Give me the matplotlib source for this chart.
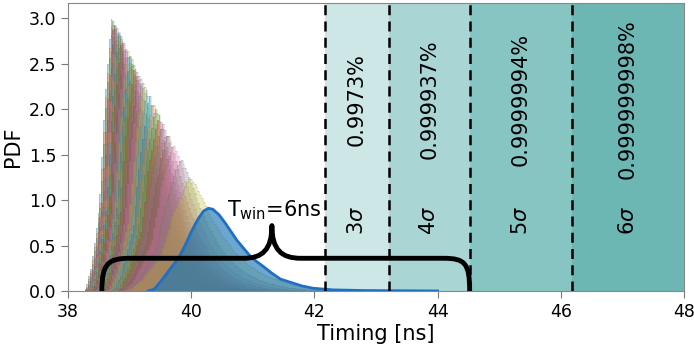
import numpy as np
import matplotlib
matplotlib.use("Agg")
import matplotlib.pyplot as plt
from matplotlib.path import Path
from matplotlib.patches import PathPatch

# ---------------- data ----------------
peak_times = [38.71, 38.72, 38.73, 38.75, 38.76, 38.77, 38.78, 38.79, 38.81, 38.82,
              38.83, 38.84, 38.85, 38.87, 38.89, 38.91, 38.93, 38.95, 38.97, 38.99,
              39.01, 39.03, 39.05, 39.08, 39.11, 39.14, 39.17, 39.20, 39.23, 39.28,
              39.33, 39.38, 39.43, 39.48, 39.54, 39.62, 39.71, 39.83, 39.98]
peak_heights = [3.03, 3.02, 3.00, 2.97, 2.96, 2.95, 2.93, 2.92, 2.89, 2.88,
                2.86, 2.85, 2.83, 2.80, 2.78, 2.75, 2.72, 2.69, 2.67, 2.64,
                2.61, 2.58, 2.55, 2.51, 2.47, 2.43, 2.39, 2.34, 2.30, 2.23,
                2.16, 2.09, 2.02, 1.95, 1.85, 1.74, 1.62, 1.46, 1.25]
# normalised pulse profile of the first (narrowest) histogram, offset from peak [ns]
profile_dt = [-0.45, -0.41, -0.33, -0.26, -0.19, -0.11, -0.03, 0.0, 0.05, 0.10,
              0.15, 0.20, 0.30, 0.40, 0.50, 0.60, 0.70, 0.85, 1.00, 1.20]
profile_y = [0.0, 0.01, 0.086, 0.20, 0.33, 0.69, 0.93, 1.0, 0.90, 0.76,
             0.63, 0.52, 0.34, 0.22, 0.14, 0.09, 0.055, 0.025, 0.01, 0.0]

blue_t = [39.30, 39.40, 39.50, 39.60, 39.70, 39.80, 39.90, 40.00, 40.10, 40.20,
          40.28, 40.35, 40.45, 40.55, 40.65, 40.74, 40.85, 40.95, 41.05, 41.17,
          41.30, 41.45, 41.66, 41.80, 41.98, 42.30, 42.80, 43.50, 44.00]
blue_pdf = [0.0, 0.02, 0.10, 0.19, 0.28, 0.37, 0.50, 0.65, 0.78, 0.88,
            0.91, 0.90, 0.84, 0.75, 0.65, 0.56, 0.47, 0.39, 0.33, 0.27,
            0.20, 0.13, 0.085, 0.055, 0.03, 0.012, 0.005, 0.002, 0.0]

sigma_edges = [42.17, 43.21, 44.52, 46.18, 48.0]
sigma_labels = ["$3\\sigma$", "$4\\sigma$", "$5\\sigma$", "$6\\sigma$"]
percent_labels = ["0.9973%", "0.999937%", "0.9999994%", "0.999999998%"]
region_colors = ["#cde7e6", "#a9d5d4", "#87c5c3", "#6cb6b3"]

brace_start, brace_end = 38.55, 44.52
brace_tip = 41.31
brace_level, brace_tip_level = 0.36, 0.72

# ---------------- figure ----------------
fig = plt.figure(figsize=(6.94, 3.51), dpi=100)
ax = fig.add_axes([0.098, 0.171, 0.8876, 0.8205])

# sigma regions
for i in range(4):
    ax.axvspan(sigma_edges[i], sigma_edges[i + 1], color=region_colors[i], lw=0, zorder=0)
for x in sigma_edges[:4]:
    ax.axvline(x, color="black", ls=(0, (4, 2.5)), lw=1.8, zorder=5)

# histograms
tab = plt.rcParams["axes.prop_cycle"].by_key()["color"]
edges = np.arange(38.0, 44.0 + 1e-9, 0.03)
centers = 0.5 * (edges[:-1] + edges[1:])
h0 = peak_heights[0]
for i, (p, h) in enumerate(zip(peak_times, peak_heights)):
    s = h0 / h
    vals = h * np.interp((centers - p) / s, profile_dt, profile_y, left=0, right=0)
    c = tab[i % 10]
    ax.stairs(vals, edges, fill=True, color=c, alpha=0.3, lw=0, zorder=1)
    ax.stairs(vals, edges, color="#666666", alpha=0.2, lw=0.6, zorder=1)

# blue curve
ax.fill_between(blue_t, blue_pdf, 0, color="#1f77b4", alpha=0.65, lw=0, zorder=2)
ax.plot(blue_t, blue_pdf, color="#1f6fc4", lw=2.0, zorder=3)

# brace
L, R, T = brace_start, brace_end, brace_tip
yb, yt = brace_level, brace_tip_level
verts = [(L, 0.0), (L, 0.30), (L + 0.10, yb), (L + 0.45, yb),
         (T - 0.46, yb),
         (T - 0.16, yb), (T, yb + 0.09), (T, yt),
         (T, yb + 0.09), (T + 0.16, yb), (T + 0.47, yb),
         (R - 0.42, yb),
         (R - 0.07, yb), (R, 0.30), (R, 0.0)]
codes = [Path.MOVETO, Path.CURVE4, Path.CURVE4, Path.CURVE4,
         Path.LINETO,
         Path.CURVE4, Path.CURVE4, Path.CURVE4,
         Path.CURVE4, Path.CURVE4, Path.CURVE4,
         Path.LINETO,
         Path.CURVE4, Path.CURVE4, Path.CURVE4]
ax.add_patch(PathPatch(Path(verts, codes), fc="none", ec="black", lw=3.5,
                       capstyle="round", joinstyle="round", zorder=6))
ax.text(40.58, 0.82, "T$_{\\mathrm{win}}$=6ns", fontsize=15, ha="left", va="baseline", zorder=7)

# region texts
for i in range(4):
    xm = 0.5 * (sigma_edges[i] + sigma_edges[i + 1])
    ax.text(xm, 2.11, percent_labels[i], rotation=90, ha="center", va="center", fontsize=15, zorder=7)
    ax.text(xm, 0.78, sigma_labels[i], rotation=90, ha="center", va="center", fontsize=15, zorder=7)

ax.set_xlim(38, 48)
ax.set_ylim(0, 3.17)
ax.set_xticks([38, 40, 42, 44, 46, 48])
ax.set_yticks([0.0, 0.5, 1.0, 1.5, 2.0, 2.5, 3.0])
ax.set_xlabel("Timing [ns]", fontsize=15, labelpad=2)
ax.set_ylabel("PDF", fontsize=15, labelpad=4)
ax.tick_params(labelsize=12.5, color="#777777", length=5)
for sp in ax.spines.values():
    sp.set_color("#888888")

fig.savefig("out.png", dpi=100)
